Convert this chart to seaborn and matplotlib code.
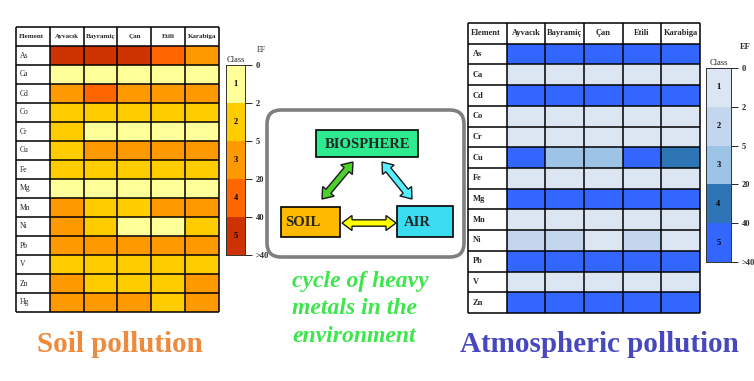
# Heavy metal enrichment classes: soil vs atmosphere (Çanakkale towns)
import numpy as np
import pandas as pd
import matplotlib
matplotlib.use("Agg")
import matplotlib.pyplot as plt
import matplotlib.patches as mpatches
from matplotlib.colors import ListedColormap
import seaborn as sns

# ── data ────────────────────────────────────────────────────
towns = ["Ayvacık", "Bayramiç", "Çan", "Etili", "Karabiga"]

soil_elements = ["As", "Ca", "Cd", "Co", "Cr", "Cu", "Fe",
                 "Mg", "Mn", "Ni", "Pb", "V", "Zn", "Hg"]
soil_classes = [
    [5, 5, 5, 4, 3],   # As
    [1, 1, 1, 1, 1],   # Ca
    [3, 4, 3, 3, 3],   # Cd
    [2, 2, 2, 2, 2],   # Co
    [2, 1, 1, 1, 1],   # Cr
    [2, 3, 3, 3, 3],   # Cu
    [2, 2, 2, 2, 2],   # Fe
    [1, 1, 1, 1, 1],   # Mg
    [3, 2, 2, 3, 3],   # Mn
    [3, 2, 1, 1, 2],   # Ni
    [3, 3, 3, 3, 3],   # Pb
    [2, 2, 2, 2, 2],   # V
    [3, 2, 2, 2, 3],   # Zn
    [3, 3, 3, 2, 3],   # Hg
]

air_elements = ["As", "Ca", "Cd", "Co", "Cr", "Cu", "Fe",
                "Mg", "Mn", "Ni", "Pb", "V", "Zn"]
air_classes = [
    [5, 5, 5, 5, 5],   # As
    [1, 1, 1, 1, 1],   # Ca
    [5, 5, 5, 5, 5],   # Cd
    [1, 1, 1, 1, 1],   # Co
    [1, 1, 1, 1, 1],   # Cr
    [5, 3, 3, 5, 4],   # Cu
    [1, 1, 1, 1, 1],   # Fe
    [5, 5, 5, 5, 5],   # Mg
    [1, 1, 1, 1, 1],   # Mn
    [2, 2, 1, 2, 1],   # Ni
    [5, 5, 5, 5, 5],   # Pb
    [1, 1, 1, 1, 1],   # V
    [5, 5, 5, 5, 5],   # Zn
]

class_ids = [1, 2, 3, 4, 5]
ef_bounds = ["0", "2", "5", "20", "40", ">40"]

soil_colors = ["#FFFF99", "#FFCC00", "#FF9900", "#FF6600", "#CC3300"]
air_colors  = ["#DCE6F2", "#C3D6EE", "#9DC3E6", "#2E75B6", "#3366FF"]

# ── style ───────────────────────────────────────────────────
sns.set_style("white")
plt.rcParams["font.family"] = ["Liberation Serif", "DejaVu Serif"]

W, H = 754, 381
fig = plt.figure(figsize=(W / 100, H / 100), dpi=100)


def box(x0, y0, x1, y1):
    """pixel box (top-left origin) -> figure fraction rect"""
    return [x0 / W, 1 - y1 / H, (x1 - x0) / W, (y1 - y0) / H]


# background axes for the diagram and captions (pixel coordinates)
bg = fig.add_axes([0, 0, 1, 1])
bg.set_xlim(0, W)
bg.set_ylim(H, 0)
bg.axis("off")


def class_table(rect, elements, classes, colors, fs_el, fs_head, bold_el):
    ax = fig.add_axes(rect)
    df = pd.DataFrame(classes, index=elements, columns=towns)
    sns.heatmap(df, ax=ax, cmap=ListedColormap(colors), vmin=0.5, vmax=5.5,
                cbar=False, xticklabels=False, yticklabels=False,
                linewidths=0)
    n = len(elements)
    ax.set_xlim(-1, len(towns))
    ax.set_ylim(n, -1)
    ax.set_facecolor("white")
    ax.hlines(np.arange(-1, n + 1), -1, len(towns), color="black",
              lw=1.1, clip_on=False)
    ax.vlines(np.arange(-1, len(towns) + 1), -1, n, color="black",
              lw=1.1, clip_on=False)
    ax.text(-0.92, -0.5, "Element", ha="left", va="center",
            fontsize=fs_head, weight="bold")
    for j, t in enumerate(towns):
        ax.text(j + 0.5, -0.5, t, ha="center", va="center",
                fontsize=fs_head, weight="bold")
    for i, el in enumerate(elements):
        ax.text(-0.88, i + 0.5, el, ha="left", va="center",
                fontsize=fs_el, weight="bold" if bold_el else "normal")
    for s in ax.spines.values():
        s.set_visible(False)
    return ax


def class_legend(rect, colors):
    lax = fig.add_axes(rect)
    sns.heatmap(pd.DataFrame({"Class": class_ids}), ax=lax,
                cmap=ListedColormap(colors), vmin=0.5, vmax=5.5, cbar=False,
                annot=True, fmt="d", xticklabels=False,
                annot_kws={"fontsize": 6, "weight": "bold", "color": "black"})
    lax.yaxis.tick_right()
    lax.set_yticks(np.arange(len(ef_bounds)))
    lax.set_yticklabels(ef_bounds, fontsize=6, weight="bold", rotation=0)
    lax.tick_params(axis="y", length=5, width=0.7, pad=3, right=True,
                    left=False)
    lax.set_title("Class", fontsize=6, pad=2)
    for s in lax.spines.values():
        s.set_visible(True)
        s.set_linewidth(0.7)
        s.set_color("#333333")
    return lax


# soil table and legend
class_table(box(16, 27, 219, 312), soil_elements, soil_classes,
            soil_colors, 5.5, 5.0, False)
class_legend(box(226, 65, 245, 255), soil_colors)
bg.text(257, 50, "EF", fontsize=5.5, ha="left", va="center")

# atmosphere table and legend
class_table(box(468, 23, 700, 313), air_elements, air_classes,
            air_colors, 6, 6, True)
class_legend(box(706, 68, 731, 262), air_colors)
bg.text(740, 47, "EF", fontsize=6, weight="bold", ha="left", va="center")

# ── cycle diagram ───────────────────────────────────────────
bg.add_patch(mpatches.FancyBboxPatch(
    (267, 110), 197, 147, boxstyle="round,pad=0,rounding_size=14",
    facecolor="white", edgecolor="#7F7F7F", lw=2.6))

nodes = [
    ("BIOSPHERE", (316, 130, 102, 27), "#2EEB8F", 367, "center"),
    ("SOIL",      (281, 207, 59, 30),  "#FFBA00", 285, "left"),
    ("AIR",       (397, 206, 56, 31),  "#3CDCF0", 404, "left"),
]
for label, (x, y, w, h), fc, tx, ha in nodes:
    bg.add_patch(mpatches.Rectangle((x, y), w, h, facecolor=fc,
                                    edgecolor="black", lw=1.2))
    bg.text(tx, y + h / 2 + 1, label, ha=ha, va="center",
            fontsize=10.5, weight="bold")


def double_arrow(p0, p1, color, sw=3.2, hw=7.5, hl=10.0):
    p0, p1 = np.array(p0, float), np.array(p1, float)
    u = (p1 - p0) / np.linalg.norm(p1 - p0)
    nrm = np.array([-u[1], u[0]])
    a, b = p0 + u * hl, p1 - u * hl
    pts = [p0, a + nrm * hw, a + nrm * sw, b + nrm * sw, b + nrm * hw,
           p1, b - nrm * hw, b - nrm * sw, a - nrm * sw, a - nrm * hw]
    bg.add_patch(mpatches.Polygon(pts, closed=True, facecolor=color,
                                  edgecolor="#1a1a1a", lw=1.0))


double_arrow((322, 199), (353, 162), "#4CD02C")
double_arrow((382, 162), (412, 199), "#55EEFF")
double_arrow((342, 223), (396, 223), "#FFFF00")

bg.text(292, 309, "cycle of heavy\nmetals in the\nenvironment",
        ha="left", va="center", multialignment="left", linespacing=1.4,
        fontsize=17, style="italic", weight="bold", color="#3CE64B")

# ── captions ────────────────────────────────────────────────
bg.text(120, 344, "Soil pollution", ha="center", va="center",
        fontsize=21, weight="bold", color="#EE8A3C")
bg.text(599, 344, "Atmospheric pollution", ha="center", va="center",
        fontsize=21, weight="bold", color="#4848BE")

fig.savefig("out.png", dpi=100)
